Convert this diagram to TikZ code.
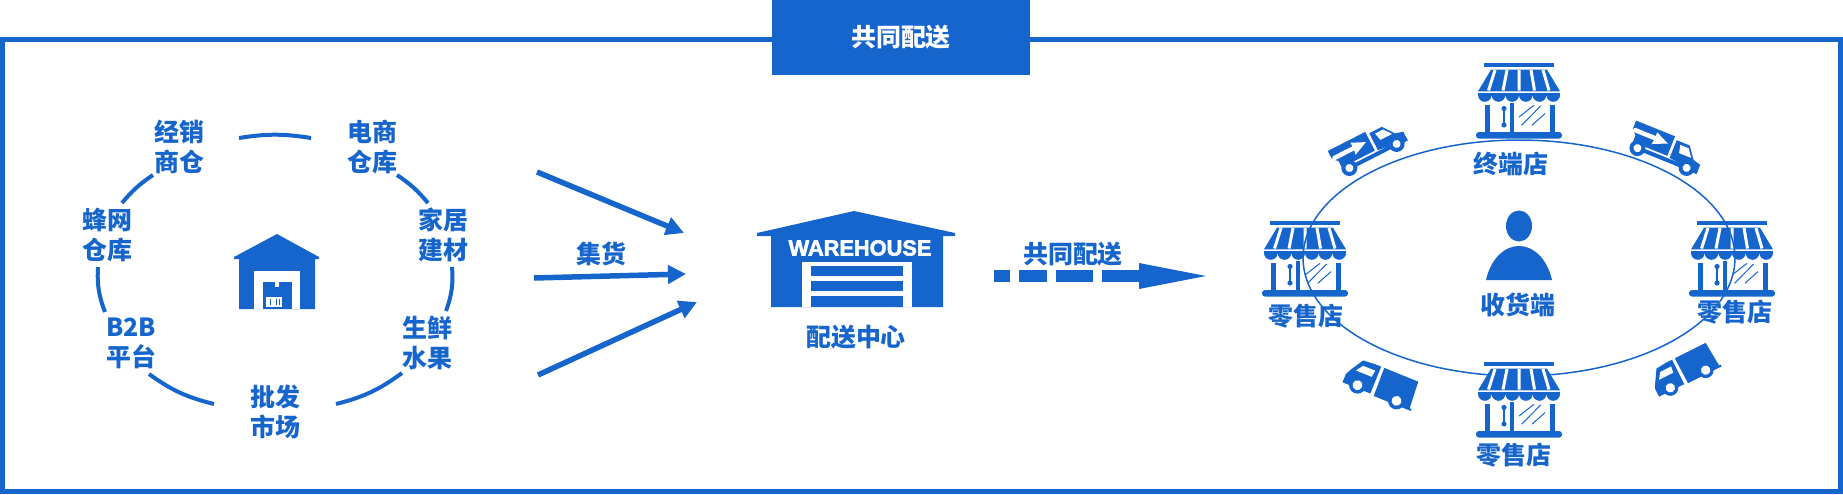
\documentclass[tikz,border=0pt]{standalone}
\usepackage{fontspec}
\setmainfont{Noto Sans CJK SC}
\newfontfamily\housefont{Liberation Sans}[BoldFeatures={FakeBold=2.5}]
\usetikzlibrary{arrows.meta,shapes.geometric}
\definecolor{boxblue}{HTML}{1565CD}
\tikzset{
    lbl/.style={text=boxblue, inner sep=0pt, align=center, font=\bfseries\fontsize{14.2}{17}\selectfont},
    ringline/.style={draw=boxblue, line width=0.08cm, bend left=#1},
    fetchline/.style={draw=boxblue, line width=0.11cm, -{Triangle[length=0.36cm,width=0.36cm]}},
    shop/.pic={
        \fill[boxblue] (-34.6,0) rectangle (34.6,-4);
        \fill[boxblue] (-28,-6.7) -- (28,-6.7) -- (41,-28.3) -- (-41,-28.3) -- cycle;
        \draw[white, line width=0.06cm] (-24,-7) -- (-30.5,-27.5) (-12,-7) -- (-16,-27.5) (0,-7) -- (0,-27.5) (12,-7) -- (15.5,-27.5) (24,-7) -- (30,-27.5);
        \fill[boxblue] (-41,-30) rectangle (41,-32.5);
        \foreach \cx in {-34.2,-20.5,-6.8,6.8,20.5,34.2}
            \fill[boxblue] (\cx-6.8,-32) arc (180:360:6.8);
        \fill[boxblue] (-33.7,-42.3) rectangle (-28.7,-69);
        \fill[boxblue] (31,-42.3) rectangle (36,-69);
        \fill[boxblue] (-8.7,-40) rectangle (-4.9,-69);
        \draw[boxblue, line width=0.05cm] (-15,-45.5) -- (-15,-62);
        \fill[boxblue] (-15,-45.5) circle (2.6) (-15,-62) circle (2.6);
        \draw[boxblue, line width=0.02cm] (0,-54) -- (15,-42.3) (2.6,-62.3) -- (21.6,-43) (12.9,-62.3) -- (26,-50.6);
        \fill[boxblue, rounded corners=0.06cm] (-43,-69) rectangle (43,-75.6);
    },
    fasttruck/.pic={
        % cargo with arrow
        \fill[boxblue] (-38,25) -- (4,25) -- (4,4) -- (-33,4) -- (-33,11) -- (-38,16) -- cycle;
        \fill[white] (-40,13.5) -- (-14,13.5) -- (-15,9) -- (0,15.6) -- (-14,22) -- (-14,18) -- (-36,18) -- cycle;
        % cab
        \fill[boxblue] (7,3) -- (7,22) -- (21,22) -- (30,10) -- (38,8) -- (38,-1) -- cycle;
        \fill[white] (12,19) -- (21,19) -- (27,11) -- (14,11) -- cycle;
        \fill[boxblue] (-34,-2) rectangle (38,2);
        \fill[boxblue] (-26.5,0) circle (8) (26.5,0) circle (8);
        \fill[white] (-26.5,0) circle (4) (26.5,0) circle (4);
    },
    boxtruck/.pic={
        \fill[boxblue] (-2,-2) -- (-2.7,26) -- (34,26) -- (36,-2) -- (38,-2) -- (38,-4) -- (-2,-4) -- cycle;
        \fill[boxblue] (-6,-3) -- (-6,26) -- (-12,26) -- (-25,25) -- (-33,12) -- (-36,6) -- (-36,-3) -- cycle;
        \fill[white] (-28,13) -- (-11,13) -- (-10,20) -- (-23,20) -- cycle;
        \fill[boxblue] (-21,0) circle (8.5) (21,0) circle (8.5);
        \fill[white] (-21,0) circle (5) (21,0) circle (5);
    },
}

\begin{document}
\begin{tikzpicture}[x=0.02cm,y=0.02cm]
    \useasboundingbox (0,0) rectangle (1843,-494);

    % Frame and title
    \draw[boxblue, line width=0.1cm] (2.5,-39.5) rectangle (1840.5,-491.5);
    \node[fill=boxblue, text=white, inner sep=0pt, minimum width=5.16cm, minimum height=1.5cm, font=\bfseries\fontsize{14.2}{17}\selectfont] (title) at (901,-37.5) {共同配送};

    % Sources
    \node[lbl] (jxc) at (179,-147) {经销\\商仓};
    \node[lbl] (ds) at (372,-147) {电商\\仓库};
    \node[lbl] (jj) at (443,-235) {家居\\建材};
    \node[lbl] (sx) at (427,-343) {生鲜\\水果};
    \node[lbl] (pf) at (275,-412) {批发\\市场};
    \node[lbl] (bb) at (131,-343) {B2B\\平台};
    \node[lbl] (fw) at (107,-235) {蜂网\\仓库};

    % Ring
    \coordinate (r1) at (239,-138);
    \coordinate (r2) at (311,-138);
    \coordinate (r3) at (397,-175);
    \coordinate (r4) at (428,-203);
    \coordinate (r5) at (452,-267);
    \coordinate (r6) at (446,-311);
    \coordinate (r7) at (402,-373);
    \coordinate (r8) at (336,-404);
    \coordinate (r9) at (214,-404);
    \coordinate (r10) at (149,-374);
    \coordinate (r11) at (105,-312);
    \coordinate (r12) at (98,-267);
    \coordinate (r13) at (122,-203);
    \coordinate (r14) at (153,-175);
    \draw[ringline=9] (r1) to (r2);
    \draw[ringline=8] (r3) to (r4);
    \draw[ringline=12] (r5) to (r6);
    \draw[ringline=11] (r7) to (r8);
    \draw[ringline=11] (r9) to (r10);
    \draw[ringline=12] (r11) to (r12);
    \draw[ringline=8] (r13) to (r14);

    % Small depot
    \fill[boxblue] (277,-234) -- (319,-257) -- (319,-259) -- (315,-259) -- (315,-309) -- (239,-309) -- (239,-259) -- (234,-259) -- (234,-257) -- cycle;
    \fill[white] (254,-271) rectangle (300,-309);
    \fill[boxblue] (263,-282) rectangle (292,-309);
    \fill[white] (275,-282) rectangle (279,-287);
    \fill[white] (266,-297) rectangle (282,-307);
    \draw[boxblue, line width=0.02cm] (270,-299) -- (270,-305) (276,-299) -- (276,-305) (279,-299) -- (279,-305);

    % Collecting arrows
    \coordinate (a1) at (537,-172);
    \coordinate (a2) at (684,-233);
    \coordinate (b1) at (534,-278);
    \coordinate (b2) at (686,-274);
    \coordinate (c1) at (538,-375);
    \coordinate (c2) at (697,-302);
    \draw[fetchline] (a1) -- (a2);
    \draw[fetchline] (b1) -- (b2);
    \draw[fetchline] (c1) -- (c2);
    \node[lbl] (jh) at (601,-254) {集货};

    % Warehouse
    \fill[boxblue] (854,-211) -- (955,-233) -- (955,-236) -- (943,-236) -- (943,-307) -- (771,-307) -- (771,-236) -- (757,-236) -- (757,-233) -- cycle;
    \fill[white] (802,-262) rectangle (912,-307);
    \fill[boxblue] (811,-266) rectangle (903,-276);
    \fill[boxblue] (811,-281) rectangle (903,-291);
    \fill[boxblue] (811,-296) rectangle (903,-307);
    \node[text=white, inner sep=0pt, font=\housefont\bfseries\fontsize{12.4}{14}\selectfont] (wh) at (860,-248) {WAREHOUSE};
    \node[lbl] (pszx) at (856,-337) {配送中心};

    % Delivery arrow
    \coordinate (d1) at (994,-276);
    \coordinate (d2) at (1140,-276);
    \draw[boxblue, line width=0.24cm, dash pattern=on 0.32cm off 0.18cm on 0.56cm off 0.18cm on 0.74cm off 0.18cm on 0.76cm off 1cm] (d1) -- (d2);
    \fill[boxblue] (1139,-263) -- (1206,-276) -- (1139,-289) -- cycle;
    \node[lbl] (gt) at (1073,-254) {共同配送};

    % Shops
    \pic at (1305,-221) {shop};
    \pic at (1732,-221) {shop};
    \node[draw=boxblue, line width=0.03cm, ellipse, inner sep=0pt, minimum width=8.64cm, minimum height=4.72cm] (loop) at (1519,-258) {};
    \pic at (1519,-63) {shop};
    \pic at (1519,-362) {shop};
    \node[lbl] (zd) at (1511,-164) {终端店};
    \node[lbl] (ls1) at (1306,-316) {零售店};
    \node[lbl] (ls2) at (1735,-312) {零售店};
    \node[lbl] (ls3) at (1514,-455) {零售店};

    % Trucks
    \pic[rotate=27] at (1373,-156) {fasttruck};
    \pic[rotate=-22] at (1662,-158) {fasttruck};
    \pic[rotate=-22] at (1377,-393) {boxtruck};
    \pic[rotate=26.6, scale=0.94] at (1688,-379) {boxtruck};

    % Receiver
    \fill[boxblue] (1519,-226) ellipse (13 and 15.5);
    \fill[boxblue] (1486,-280) .. controls (1491,-258) and (1505,-246) .. (1519,-246) .. controls (1533,-246) and (1547,-258) .. (1552,-280) -- cycle;
    \node[lbl] (sh) at (1518,-305) {收货端};
\end{tikzpicture}
\end{document}
